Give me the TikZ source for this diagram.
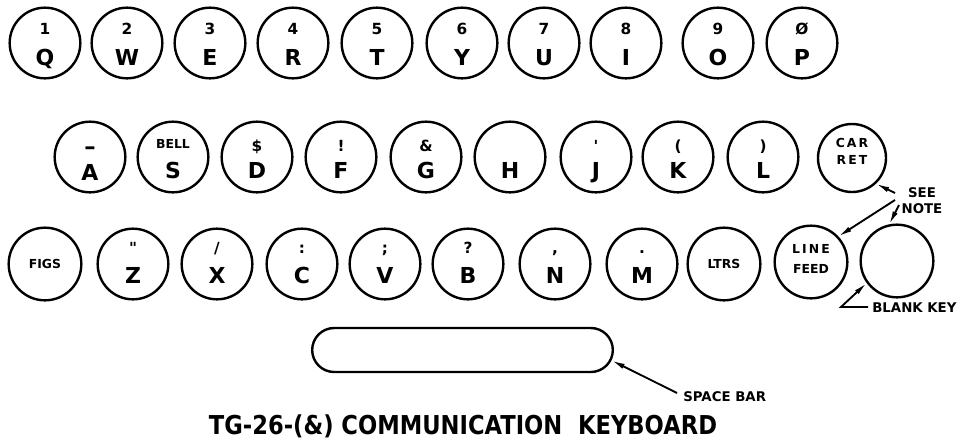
\documentclass[tikz,border=0pt]{standalone}
\usepackage{fontspec}
\setmainfont{DejaVu Sans}[Ligatures=TeXOff]
\usetikzlibrary{arrows.meta,shapes.misc,calc}
\tikzset{
  key/.style={circle, draw, line width=1.8pt, minimum size=53pt, inner sep=0pt},
  bigkey/.style={key, minimum size=54.5pt},
  upch/.style={font=\bfseries\fontsize{11.5}{11.5}\selectfont, inner sep=0pt, anchor=base},
  letter/.style={font=\bfseries\fontsize{16.5}{16.5}\selectfont, inner sep=0pt, anchor=base},
  small/.style={font=\bfseries\fontsize{9.3}{9.3}\selectfont, inner sep=0pt},
  note/.style={font=\bfseries\fontsize{10}{12}\selectfont, inner sep=0pt},
  lead/.style={line width=1.4pt, -{Latex[length=10pt,width=4pt]}},
}
% name, x, y, upper, letter, upper offset, letter offset
\newcommand\kbkey[7]{%
  \node[key] (#1) at (#2,#3) {};
  \node[upch] (#1u) at (#2,#3+#6) {#4};
  \node[letter] (#1l) at (#2,#3+#7) {#5};
}
\begin{document}
\begin{tikzpicture}[x=0.75pt,y=-0.75pt]
\useasboundingbox (0,0) rectangle (960,440);
% top row
\kbkey{q}{45}{43}{1}{Q}{-9}{22}
\kbkey{w}{127}{43}{2}{W}{-9}{22}
\kbkey{e}{210}{43}{3}{E}{-9}{22}
\kbkey{r}{293}{43}{4}{R}{-9}{22}
\kbkey{t}{377}{43}{5}{T}{-9}{22}
\kbkey{y}{462}{43}{6}{Y}{-9}{22}
\kbkey{u}{544}{43}{7}{U}{-9}{22}
\kbkey{i}{626}{43}{8}{I}{-9}{22}
\kbkey{o}{718}{43}{9}{O}{-9}{22}
\kbkey{p}{802}{43}{Ø}{P}{-9}{22}
% middle row
\node[key] (a) at (90,157) {};
\node[upch, anchor=center, font=\bfseries\fontsize{17}{17}\selectfont] (au) at (90,151) {–};
\node[letter] (al) at (90,180) {A};
\node[key] (s) at (173,157) {};
\node[small, anchor=base] (su) at (173,148) {BELL};
\node[letter] (sl) at (173,178) {S};
\kbkey{d}{257}{157}{\$}{D}{-6}{21}
\kbkey{f}{341}{157}{!}{F}{-6}{21}
\kbkey{g}{426}{157}{\&}{G}{-6}{21}
\node[key] (h) at (510,157) {};
\node[letter] (hl) at (510,178) {H};
\kbkey{j}{596}{157}{'}{J}{-6}{21}
\kbkey{k}{678}{157}{(}{K}{-6}{21}
\kbkey{l}{763}{157}{)}{L}{-6}{21}
\node[key, minimum size=51pt] (cr) at (852,158) {};
\node[small, anchor=base] (cr1) at (852,147) {C\,A\,R};
\node[small, anchor=base] (cr2) at (852,164) {R\,E\,T};
% bottom row
\node[bigkey] (figs) at (45,264) {};
\node[small] (figst) at (45,264) {FIGS};
\kbkey{z}{133}{264}{"}{Z}{-11}{19}
\kbkey{x}{217}{264}{/}{X}{-11}{19}
\kbkey{c}{302}{264}{:}{C}{-11}{19}
\kbkey{v}{385}{264}{;}{V}{-11}{19}
\kbkey{b}{468}{264}{?}{B}{-11}{19}
\kbkey{n}{555}{264}{,}{N}{-11}{19}
\kbkey{m}{642}{264}{.}{M}{-11}{19}
\node[bigkey] (ltrs) at (724,264) {};
\node[small] (ltrst) at (724,264) {LTRS};
\node[bigkey] (lf) at (811,262) {};
\node[small, anchor=base] (lf1) at (811,253) {L\,I\,N\,E};
\node[small, anchor=base] (lf2) at (811,273) {FEED};
\node[bigkey] (blank) at (897,261) {};
% space bar
\node[rounded rectangle, draw, line width=1.8pt, minimum width=225.5pt, minimum height=33pt, inner sep=0pt] (sb) at (462.5,350) {};
% notes
\node[note, align=center] (see) at (922,201) {SEE\\NOTE};
\coordinate (sn1) at (895,193);
\coordinate (sn2) at (895,200);
\coordinate (sn3) at (899,205);
\draw[lead] (sn1) -- (cr.-47);
\draw[lead] (sn2) -- (lf.43);
\draw[lead] (sn3) -- (blank.102);
\node[note, anchor=base west] (bk) at (872,312) {BLANK KEY};
\coordinate (bkc) at (841,307);
\draw[lead] ([xshift=-3pt]bk.west |- bkc) -- (bkc) -- (blank.-144);
\node[note, anchor=base west] (sbt) at (683,401) {SPACE BAR};
\coordinate (sbc) at (677,393);
\draw[lead] (sbc) -- (sb.-4.3);
% title
\node[inner sep=0pt, anchor=base] (title) at (463,434) {\scalebox{0.87}[1]{\bfseries\fontsize{19.5}{20}\selectfont TG-26-(\&)\ COMMUNICATION\ \ KEYBOARD}};
\end{tikzpicture}
\end{document}
